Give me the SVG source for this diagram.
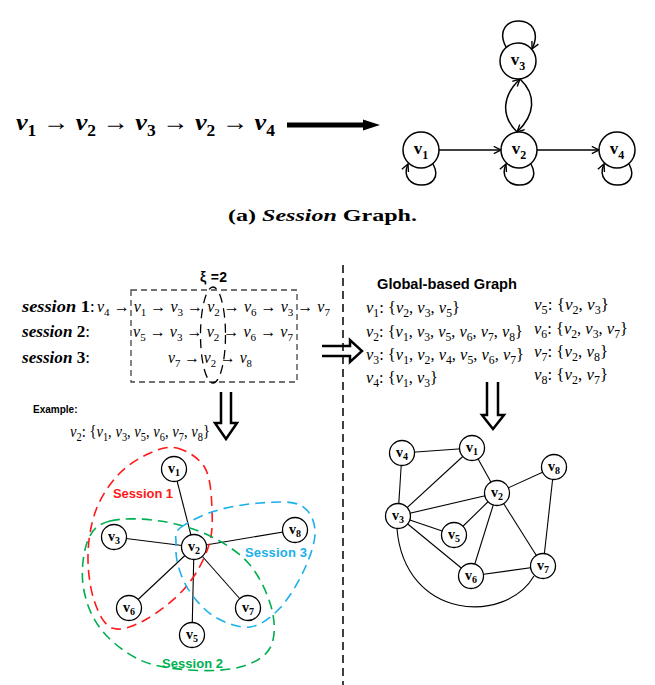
<svg xmlns="http://www.w3.org/2000/svg" width="655" height="685" viewBox="0 0 655 685">
<defs>
<style>
.ser{font-family:"Liberation Serif","DejaVu Serif",serif}
.it{font-style:italic}
.bd{font-weight:bold}
.m{font-family:"Liberation Serif","DejaVu Serif",serif;font-size:17px}
.r{font-size:16px}
.v{font-style:italic}
.sb{font-size:12px;font-style:normal}
.r .sb{font-size:11px}
.sans{font-family:"Liberation Sans",Arial,sans-serif;font-weight:bold}
.ln{stroke:#000;fill:none}
.nd circle{fill:#fff;stroke:#000;stroke-width:1.3}
.nd text{font-family:"Liberation Serif","DejaVu Serif",serif;font-weight:bold;text-anchor:middle}
.big circle{stroke-width:1.5}
.hull{fill:none;stroke-width:1.6;stroke-dasharray:10 6}
</style>
<marker id="oa" viewBox="0 0 10 10" refX="9" refY="5" markerWidth="9" markerHeight="9" markerUnits="userSpaceOnUse" orient="auto">
<path d="M1,1 L9,5 L1,9" fill="none" stroke="#000" stroke-width="1.5"/>
</marker>
</defs>
<rect width="655" height="685" fill="#fff"/>

<!-- Top: sequence -->
<text class="ser bd" x="16" y="130" font-size="24" textLength="259" lengthAdjust="spacingAndGlyphs"><tspan class="v">v</tspan><tspan font-size="16" dy="6">1</tspan><tspan dy="-6" font-weight="normal"> → </tspan><tspan class="v">v</tspan><tspan font-size="16" dy="6">2</tspan><tspan dy="-6" font-weight="normal"> → </tspan><tspan class="v">v</tspan><tspan font-size="16" dy="6">3</tspan><tspan dy="-6" font-weight="normal"> → </tspan><tspan class="v">v</tspan><tspan font-size="16" dy="6">2</tspan><tspan dy="-6" font-weight="normal"> → </tspan><tspan class="v">v</tspan><tspan font-size="16" dy="6">4</tspan></text>
<g id="big-arrow">
<line x1="287" y1="125" x2="365" y2="125" stroke="#000" stroke-width="5"/>
<polygon points="363,119.5 380,125 363,130.5" fill="#000"/>
</g>

<!-- Top: session graph connectors -->
<g id="sg-edges" class="ln" stroke-width="1.5">
<path d="M506,47 C488,12 550,12 532,49" marker-end="url(#oa)"/>
<path d="M517,132 C500,115 503,95 520,79" marker-end="url(#oa)"/>
<path d="M520,79 C537,95 535,115 517,132" marker-end="url(#oa)"/>
<path d="M439,150 L501,150" marker-end="url(#oa)"/>
<path d="M537,150 L599,150" marker-end="url(#oa)"/>
<path d="M433,164 C448,192 396,192 408,164" marker-end="url(#oa)"/>
<path d="M531,164 C546,192 494,192 506,164" marker-end="url(#oa)"/>
<path d="M629,164 C644,192 592,192 604,164" marker-end="url(#oa)"/>
</g>
<g id="sg-v3" class="nd big"><circle cx="518" cy="61" r="18"/><text x="518" y="65" font-size="17">v<tspan font-size="12" dy="5">3</tspan></text></g>
<g id="sg-v1" class="nd big"><circle cx="421" cy="150" r="18"/><text x="421" y="154" font-size="17">v<tspan font-size="12" dy="5">1</tspan></text></g>
<g id="sg-v2" class="nd big"><circle cx="519" cy="150" r="18"/><text x="519" y="154" font-size="17">v<tspan font-size="12" dy="5">2</tspan></text></g>
<g id="sg-v4" class="nd big"><circle cx="617" cy="150" r="18"/><text x="617" y="154" font-size="17">v<tspan font-size="12" dy="5">4</tspan></text></g>

<text class="ser bd" x="228" y="221" font-size="17" textLength="189" lengthAdjust="spacingAndGlyphs">(a) <tspan class="it">Session</tspan> Graph.</text>

<!-- Separator -->
<line x1="343" y1="265" x2="343" y2="685" stroke="#000" stroke-width="1.5" stroke-dasharray="8 5"/>

<!-- Left: sessions -->
<text class="sans" x="200" y="282" font-size="14" textLength="27">ξ =2</text>
<rect x="131" y="290" width="166" height="92" fill="none" stroke="#444" stroke-width="1.3" stroke-dasharray="6 4"/>
<ellipse cx="213" cy="335" rx="12.5" ry="48" fill="none" stroke="#000" stroke-width="1.3" stroke-dasharray="9 6"/>

<text class="ser it bd" x="22" y="312" font-size="17" textLength="73" lengthAdjust="spacingAndGlyphs">session <tspan font-style="normal">1</tspan><tspan font-style="normal" font-weight="normal">:</tspan></text>
<text class="m r" x="97" y="312" textLength="233" lengthAdjust="spacingAndGlyphs"><tspan class="v">v</tspan><tspan class="sb" dy="4">4</tspan><tspan dy="-4"> → </tspan><tspan class="v">v</tspan><tspan class="sb" dy="4">1</tspan><tspan dy="-4"> → </tspan><tspan class="v">v</tspan><tspan class="sb" dy="4">3</tspan><tspan dy="-4"> → </tspan><tspan class="v">v</tspan><tspan class="sb" dy="4">2</tspan><tspan dy="-4"> → </tspan><tspan class="v">v</tspan><tspan class="sb" dy="4">6</tspan><tspan dy="-4"> → </tspan><tspan class="v">v</tspan><tspan class="sb" dy="4">3</tspan><tspan dy="-4"> → </tspan><tspan class="v">v</tspan><tspan class="sb" dy="4">7</tspan></text>

<text class="ser it bd" x="22" y="337" font-size="17" textLength="68" lengthAdjust="spacingAndGlyphs">session <tspan font-style="normal">2</tspan><tspan font-style="normal" font-weight="normal">:</tspan></text>
<text class="m r" x="133" y="337" textLength="160" lengthAdjust="spacingAndGlyphs"><tspan class="v">v</tspan><tspan class="sb" dy="4">5</tspan><tspan dy="-4"> → </tspan><tspan class="v">v</tspan><tspan class="sb" dy="4">3</tspan><tspan dy="-4"> → </tspan><tspan class="v">v</tspan><tspan class="sb" dy="4">2</tspan><tspan dy="-4"> → </tspan><tspan class="v">v</tspan><tspan class="sb" dy="4">6</tspan><tspan dy="-4"> → </tspan><tspan class="v">v</tspan><tspan class="sb" dy="4">7</tspan></text>

<text class="ser it bd" x="22" y="363" font-size="17" textLength="68" lengthAdjust="spacingAndGlyphs">session <tspan font-style="normal">3</tspan><tspan font-style="normal" font-weight="normal">:</tspan></text>
<text class="m r" x="168" y="363" textLength="84" lengthAdjust="spacingAndGlyphs"><tspan class="v">v</tspan><tspan class="sb" dy="4">7</tspan><tspan dy="-4"> → </tspan><tspan class="v">v</tspan><tspan class="sb" dy="4">2</tspan><tspan dy="-4"> → </tspan><tspan class="v">v</tspan><tspan class="sb" dy="4">8</tspan></text>

<!-- Hollow arrows -->
<path d="M221,392 L221,423 L215,423 L226,439 L237,423 L231,423 L231,392" fill="none" stroke="#000" stroke-width="2.5"/>
<path d="M322,346 L350,346 L350,340 L362,351 L350,362 L350,356 L322,356" fill="none" stroke="#000" stroke-width="2.5"/>
<path d="M487,382 L487,415 L482,415 L493,429 L504,415 L498,415 L498,382" fill="none" stroke="#000" stroke-width="2.5"/>

<!-- Example -->
<text class="sans" x="33" y="413" font-size="10">Example:</text>
<text class="m" x="70" y="437" font-size="15" textLength="140" lengthAdjust="spacingAndGlyphs"><tspan class="v">v</tspan><tspan class="sb" font-size="10" dy="4">2</tspan><tspan dy="-4">: {</tspan><tspan class="v">v</tspan><tspan class="sb" font-size="10" dy="4">1</tspan><tspan dy="-4">, </tspan><tspan class="v">v</tspan><tspan class="sb" font-size="10" dy="4">3</tspan><tspan dy="-4">, </tspan><tspan class="v">v</tspan><tspan class="sb" font-size="10" dy="4">5</tspan><tspan dy="-4">, </tspan><tspan class="v">v</tspan><tspan class="sb" font-size="10" dy="4">6</tspan><tspan dy="-4">, </tspan><tspan class="v">v</tspan><tspan class="sb" font-size="10" dy="4">7</tspan><tspan dy="-4">, </tspan><tspan class="v">v</tspan><tspan class="sb" font-size="10" dy="4">8</tspan><tspan dy="-4">}</tspan></text>

<g id="ex-edges" stroke="#000" stroke-width="1.1">
<line x1="194" y1="547" x2="174" y2="469"/>
<line x1="194" y1="547" x2="114" y2="537"/>
<line x1="194" y1="547" x2="295" y2="530"/>
<line x1="194" y1="547" x2="129" y2="608"/>
<line x1="194" y1="547" x2="248" y2="608"/>
<line x1="194" y1="547" x2="192" y2="635"/>
</g>
<g id="ex-v1" class="nd"><circle cx="174" cy="469" r="12.5"/><text x="174" y="473" font-size="14">v<tspan font-size="10" dy="3">1</tspan></text></g>
<g id="ex-v3" class="nd"><circle cx="114" cy="537" r="12.5"/><text x="114" y="541" font-size="14">v<tspan font-size="10" dy="3">3</tspan></text></g>
<g id="ex-v2" class="nd"><circle cx="194" cy="547" r="12.5"/><text x="194" y="551" font-size="14">v<tspan font-size="10" dy="3">2</tspan></text></g>
<g id="ex-v8" class="nd"><circle cx="295" cy="530" r="12.5"/><text x="295" y="534" font-size="14">v<tspan font-size="10" dy="3">8</tspan></text></g>
<g id="ex-v6" class="nd"><circle cx="129" cy="608" r="12.5"/><text x="129" y="612" font-size="14">v<tspan font-size="10" dy="3">6</tspan></text></g>
<g id="ex-v7" class="nd"><circle cx="248" cy="608" r="12.5"/><text x="248" y="612" font-size="14">v<tspan font-size="10" dy="3">7</tspan></text></g>
<g id="ex-v5" class="nd"><circle cx="192" cy="635" r="12.5"/><text x="192" y="639" font-size="14">v<tspan font-size="10" dy="3">5</tspan></text></g>

<g id="hulls">
<path class="hull" stroke="#ff1a1a" d="M177,448 C186.5,450.3 199.2,457.7 205,468 C210.8,478.3 211.5,496.7 212,510 C212.5,523.3 212.5,535 208,548 C203.5,561 195.5,576 185,588 C174.5,600 157.2,613.3 145,620 C132.8,626.7 120.5,631.3 112,628 C103.5,624.7 98,612.2 94,600 C90,587.8 87.7,570 88,555 C88.3,540 91,523.3 96,510 C101,496.7 109.3,484.3 118,475 C126.7,465.7 138.2,458.5 148,454 C157.8,449.5 167.5,445.7 177,448 Z"/>
<path class="hull" stroke="#00b050" d="M110,521 C122,517.8 143.3,518.5 160,521 C176.7,523.5 195,528.7 210,536 C225,543.3 239.7,552.7 250,565 C260.3,577.3 268.7,596.2 272,610 C275.3,623.8 275.3,638.5 270,648 C264.7,657.5 253.3,663.3 240,667 C226.7,670.7 206.7,671.2 190,670 C173.3,668.8 155,667 140,660 C125,653 109.5,640.5 100,628 C90.5,615.5 85,599.7 83,585 C81,570.3 83.5,550.7 88,540 C92.5,529.3 98,524.2 110,521 Z"/>
<path class="hull" stroke="#1ab0ea" d="M180,528 C186.5,522.7 201.7,515.2 215,511 C228.3,506.8 245.8,504 260,503 C274.2,502 290.8,500.5 300,505 C309.2,509.5 314.2,519.5 315,530 C315.8,540.5 310.8,555 305,568 C299.2,581 289.2,598.2 280,608 C270.8,617.8 260.8,625.5 250,627 C239.2,628.5 225,622.8 215,617 C205,611.2 196.2,600.7 190,592 C183.8,583.3 180.3,573.2 178,565 C175.7,556.8 175.7,549.2 176,543 C176.3,536.8 173.5,533.3 180,528 Z"/>
</g>
<text class="sans" x="113" y="498" font-size="13" fill="#ff1a1a" textLength="60">Session 1</text>
<text class="sans" x="245" y="557" font-size="13" fill="#1ab0ea" textLength="62">Session 3</text>
<text class="sans" x="162" y="668" font-size="13" fill="#00b050" textLength="61">Session 2</text>

<!-- Right: global graph lists -->
<text class="sans" x="377" y="289" font-size="14" textLength="140" lengthAdjust="spacingAndGlyphs">Global-based Graph</text>
<g class="m">
<text x="366" y="313" textLength="94" lengthAdjust="spacingAndGlyphs"><tspan class="v">v</tspan><tspan class="sb" dy="4">1</tspan><tspan dy="-4">: {</tspan><tspan class="v">v</tspan><tspan class="sb" dy="4">2</tspan><tspan dy="-4">, </tspan><tspan class="v">v</tspan><tspan class="sb" dy="4">3</tspan><tspan dy="-4">, </tspan><tspan class="v">v</tspan><tspan class="sb" dy="4">5</tspan><tspan dy="-4">}</tspan></text>
<text x="366" y="337" textLength="157" lengthAdjust="spacingAndGlyphs"><tspan class="v">v</tspan><tspan class="sb" dy="4">2</tspan><tspan dy="-4">: {</tspan><tspan class="v">v</tspan><tspan class="sb" dy="4">1</tspan><tspan dy="-4">, </tspan><tspan class="v">v</tspan><tspan class="sb" dy="4">3</tspan><tspan dy="-4">, </tspan><tspan class="v">v</tspan><tspan class="sb" dy="4">5</tspan><tspan dy="-4">, </tspan><tspan class="v">v</tspan><tspan class="sb" dy="4">6</tspan><tspan dy="-4">, </tspan><tspan class="v">v</tspan><tspan class="sb" dy="4">7</tspan><tspan dy="-4">, </tspan><tspan class="v">v</tspan><tspan class="sb" dy="4">8</tspan><tspan dy="-4">}</tspan></text>
<text x="366" y="360" textLength="158" lengthAdjust="spacingAndGlyphs"><tspan class="v">v</tspan><tspan class="sb" dy="4">3</tspan><tspan dy="-4">: {</tspan><tspan class="v">v</tspan><tspan class="sb" dy="4">1</tspan><tspan dy="-4">, </tspan><tspan class="v">v</tspan><tspan class="sb" dy="4">2</tspan><tspan dy="-4">, </tspan><tspan class="v">v</tspan><tspan class="sb" dy="4">4</tspan><tspan dy="-4">, </tspan><tspan class="v">v</tspan><tspan class="sb" dy="4">5</tspan><tspan dy="-4">, </tspan><tspan class="v">v</tspan><tspan class="sb" dy="4">6</tspan><tspan dy="-4">, </tspan><tspan class="v">v</tspan><tspan class="sb" dy="4">7</tspan><tspan dy="-4">}</tspan></text>
<text x="366" y="383" textLength="72" lengthAdjust="spacingAndGlyphs"><tspan class="v">v</tspan><tspan class="sb" dy="4">4</tspan><tspan dy="-4">: {</tspan><tspan class="v">v</tspan><tspan class="sb" dy="4">1</tspan><tspan dy="-4">, </tspan><tspan class="v">v</tspan><tspan class="sb" dy="4">3</tspan><tspan dy="-4">}</tspan></text>
<text x="534" y="310" textLength="75" lengthAdjust="spacingAndGlyphs"><tspan class="v">v</tspan><tspan class="sb" dy="4">5</tspan><tspan dy="-4">: {</tspan><tspan class="v">v</tspan><tspan class="sb" dy="4">2</tspan><tspan dy="-4">, </tspan><tspan class="v">v</tspan><tspan class="sb" dy="4">3</tspan><tspan dy="-4">}</tspan></text>
<text x="534" y="334" textLength="94" lengthAdjust="spacingAndGlyphs"><tspan class="v">v</tspan><tspan class="sb" dy="4">6</tspan><tspan dy="-4">: {</tspan><tspan class="v">v</tspan><tspan class="sb" dy="4">2</tspan><tspan dy="-4">, </tspan><tspan class="v">v</tspan><tspan class="sb" dy="4">3</tspan><tspan dy="-4">, </tspan><tspan class="v">v</tspan><tspan class="sb" dy="4">7</tspan><tspan dy="-4">}</tspan></text>
<text x="534" y="357" textLength="74" lengthAdjust="spacingAndGlyphs"><tspan class="v">v</tspan><tspan class="sb" dy="4">7</tspan><tspan dy="-4">: {</tspan><tspan class="v">v</tspan><tspan class="sb" dy="4">2</tspan><tspan dy="-4">, </tspan><tspan class="v">v</tspan><tspan class="sb" dy="4">8</tspan><tspan dy="-4">}</tspan></text>
<text x="534" y="380" textLength="74" lengthAdjust="spacingAndGlyphs"><tspan class="v">v</tspan><tspan class="sb" dy="4">8</tspan><tspan dy="-4">: {</tspan><tspan class="v">v</tspan><tspan class="sb" dy="4">2</tspan><tspan dy="-4">, </tspan><tspan class="v">v</tspan><tspan class="sb" dy="4">7</tspan><tspan dy="-4">}</tspan></text>
</g>

<!-- Right: global graph -->
<g id="gg-edges" stroke="#000" stroke-width="1.1" fill="none">
<line x1="402" y1="453" x2="472" y2="448"/>
<line x1="402" y1="453" x2="398" y2="516"/>
<line x1="472" y1="448" x2="398" y2="516"/>
<line x1="472" y1="448" x2="497" y2="493"/>
<line x1="497" y1="493" x2="554" y2="467"/>
<line x1="497" y1="493" x2="398" y2="516"/>
<line x1="497" y1="493" x2="454" y2="535"/>
<line x1="497" y1="493" x2="471" y2="576"/>
<line x1="497" y1="493" x2="543" y2="566"/>
<line x1="398" y1="516" x2="454" y2="535"/>
<line x1="398" y1="516" x2="471" y2="576"/>
<line x1="471" y1="576" x2="543" y2="566"/>
<line x1="554" y1="467" x2="543" y2="566"/>
<path d="M397,529 C405,620 505,625 534,576"/>
</g>
<g id="gg-v4" class="nd"><circle cx="402" cy="453" r="12.5"/><text x="402" y="457" font-size="14">v<tspan font-size="10" dy="3">4</tspan></text></g>
<g id="gg-v1" class="nd"><circle cx="472" cy="448" r="12.5"/><text x="472" y="452" font-size="14">v<tspan font-size="10" dy="3">1</tspan></text></g>
<g id="gg-v8" class="nd"><circle cx="554" cy="467" r="12.5"/><text x="554" y="471" font-size="14">v<tspan font-size="10" dy="3">8</tspan></text></g>
<g id="gg-v2" class="nd"><circle cx="497" cy="493" r="12.5"/><text x="497" y="497" font-size="14">v<tspan font-size="10" dy="3">2</tspan></text></g>
<g id="gg-v3" class="nd"><circle cx="398" cy="516" r="12.5"/><text x="398" y="520" font-size="14">v<tspan font-size="10" dy="3">3</tspan></text></g>
<g id="gg-v5" class="nd"><circle cx="454" cy="535" r="12.5"/><text x="454" y="539" font-size="14">v<tspan font-size="10" dy="3">5</tspan></text></g>
<g id="gg-v6" class="nd"><circle cx="471" cy="576" r="12.5"/><text x="471" y="580" font-size="14">v<tspan font-size="10" dy="3">6</tspan></text></g>
<g id="gg-v7" class="nd"><circle cx="543" cy="566" r="12.5"/><text x="543" y="570" font-size="14">v<tspan font-size="10" dy="3">7</tspan></text></g>
</svg>
